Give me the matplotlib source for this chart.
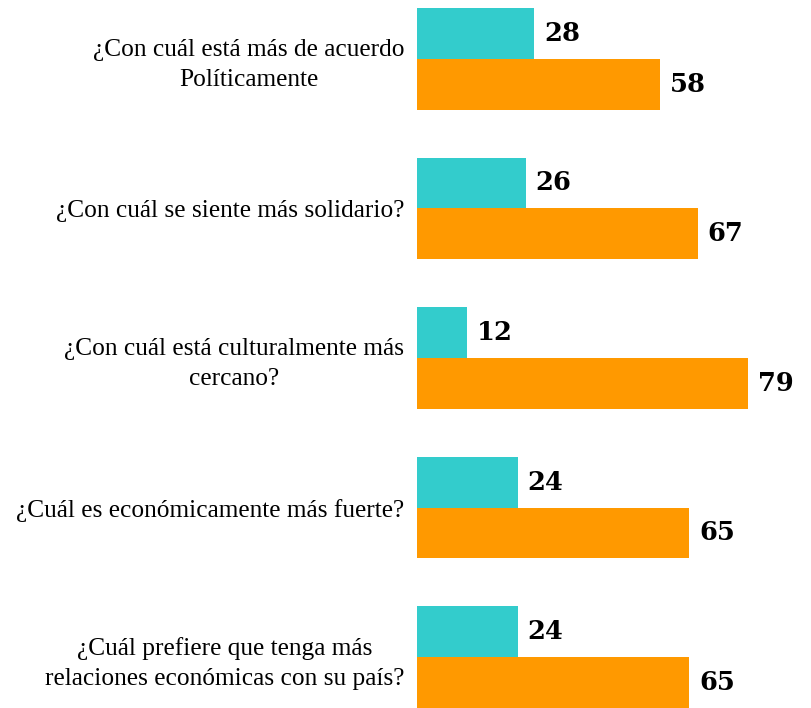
import numpy as np
import matplotlib.pyplot as plt

preguntas = [
    '¿Con cuál está más de acuerdo\nPolíticamente',
    '¿Con cuál se siente más solidario?',
    '¿Con cuál está culturalmente más\ncercano?',
    '¿Cuál es económicamente más fuerte?',
    '¿Cuál prefiere que tenga más\nrelaciones económicas con su país?',
]
serie_a = [28, 26, 12, 24, 24]
serie_b = [58, 67, 79, 65, 65]

color_a = '#33CCCC'
color_b = '#FF9900'

fig = plt.figure(figsize=(8.12, 7.08), dpi=100)
ax = fig.add_axes([417 / 812, 0, 395 / 812, 700 / 708])

y = np.arange(len(preguntas))
h = 0.341
ax.barh(y - h / 2, serie_a, height=h, color=color_a)
ax.barh(y + h / 2, serie_b, height=h, color=color_b)

for yi, a, b in zip(y, serie_a, serie_b):
    ax.text(a + 2.3, yi - h / 2, str(a), va='center', ha='left',
            fontsize=18.5, fontweight='heavy', family='DejaVu Serif')
    ax.text(b + 2.3, yi + h / 2, str(b), va='center', ha='left',
            fontsize=18.5, fontweight='heavy', family='DejaVu Serif')

ax.set_xlim(0, 94.3)
ax.set_ylim(len(preguntas) - 1 + h, -h)
ax.set_yticks(y)
ax.set_yticklabels(preguntas, fontsize=18.3, family='Liberation Serif',
                   multialignment='center', linespacing=1.45)
ax.tick_params(axis='y', length=0, pad=9)
ax.set_xticks([])
for s in ax.spines.values():
    s.set_visible(False)

fig.savefig('out.png', dpi=100)
